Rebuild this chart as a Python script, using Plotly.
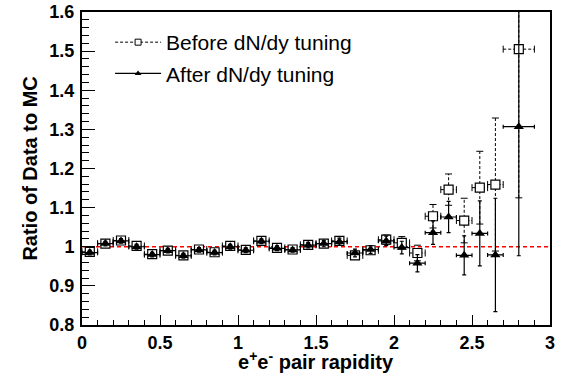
import plotly.graph_objects as go

# ---------------- data ----------------
rapidity = [0.05, 0.15, 0.25, 0.35, 0.45, 0.55, 0.65, 0.75, 0.85, 0.95,
            1.05, 1.15, 1.25, 1.35, 1.45, 1.55, 1.65, 1.75, 1.85, 1.95,
            2.05, 2.15, 2.25, 2.35, 2.45, 2.55, 2.65, 2.80]
bin_halfwidth = [0.05] * 27 + [0.10]

before = [0.987, 1.008, 1.016, 1.002, 0.981, 0.990, 0.978, 0.993, 0.986, 1.002,
          0.992, 1.015, 0.997, 0.993, 1.005, 1.008, 1.015, 0.978, 0.991, 1.018,
          1.010, 0.984, 1.078, 1.146, 1.067, 1.151, 1.159, 1.505]
before_err = [0.006, 0.006, 0.006, 0.006, 0.006, 0.006, 0.006, 0.006, 0.006, 0.006,
              0.006, 0.006, 0.006, 0.006, 0.007, 0.008, 0.009, 0.010, 0.010, 0.012,
              0.016, 0.020, 0.030, 0.040, 0.057, 0.093, 0.170, 0.380]

after = [0.985, 1.008, 1.015, 1.000, 0.980, 0.990, 0.977, 0.992, 0.985, 1.000,
         0.991, 1.014, 0.996, 0.992, 1.004, 1.008, 1.013, 0.984, 0.993, 1.015,
         0.998, 0.958, 1.036, 1.076, 0.978, 1.034, 0.979, 1.307]
after_err = [0.006, 0.006, 0.006, 0.006, 0.006, 0.006, 0.006, 0.006, 0.006, 0.006,
             0.006, 0.006, 0.006, 0.006, 0.007, 0.008, 0.009, 0.010, 0.010, 0.012,
             0.016, 0.022, 0.030, 0.040, 0.050, 0.083, 0.145, 0.330]

series_names = ["Before dN/dy tuning", "After dN/dy tuning"]

reference_ratio = 1.0
x_range = [0, 3]
y_range = [0.8, 1.6]
x_tickvals = [0, 0.5, 1, 1.5, 2, 2.5, 3]

FONT = "Liberation Sans, Arial, Helvetica, sans-serif"

fig = go.Figure()

# ---- "before" dashed error bars, built from the data ----
seg_x, seg_y = [], []
capv_x, capv_y, caph_x, caph_y = [], [], [], []
for x, y, ex, ey in zip(rapidity, before, bin_halfwidth, before_err):
    seg_x += [x, x, None, x - ex, x + ex, None]
    seg_y += [y - ey, y + ey, None, y, y, None]
    capv_x += [x, x]
    capv_y += [y - ey, y + ey]
    caph_x += [x - ex, x + ex]
    caph_y += [y, y]

fig.add_trace(go.Scatter(x=seg_x, y=seg_y, mode="lines",
                         line=dict(color="black", width=1, dash="3px,2px"),
                         showlegend=False, hoverinfo="skip"))
fig.add_trace(go.Scatter(x=capv_x, y=capv_y, mode="markers",
                         marker=dict(symbol="line-ew-open", size=5, color="black",
                                     line=dict(color="black", width=1)),
                         showlegend=False, hoverinfo="skip"))
fig.add_trace(go.Scatter(x=caph_x, y=caph_y, mode="markers",
                         marker=dict(symbol="line-ns-open", size=5, color="black",
                                     line=dict(color="black", width=1)),
                         showlegend=False, hoverinfo="skip"))

fig.add_trace(go.Scatter(x=rapidity, y=before, mode="markers", name=series_names[0],
                         marker=dict(symbol="square", size=9, color="white",
                                     line=dict(color="black", width=1.2)),
                         showlegend=False))

# ---- "after" with solid error bars ----
fig.add_trace(go.Scatter(x=rapidity, y=after, mode="markers", name=series_names[1],
                         marker=dict(symbol="triangle-up", size=9, color="black"),
                         error_x=dict(type="data", array=bin_halfwidth, color="black",
                                      thickness=1.2, width=2),
                         error_y=dict(type="data", array=after_err, color="black",
                                      thickness=1.2, width=2),
                         showlegend=False))

# ---- legend-only entries (small markers, like the reference key) ----
fig.add_trace(go.Scatter(x=[None], y=[None], mode="lines+markers", name=series_names[0],
                         line=dict(color="black", width=1, dash="3px,2px"),
                         marker=dict(symbol="square", size=6, color="white",
                                     line=dict(color="black", width=1)),
                         legendgroup="b"))
fig.add_trace(go.Scatter(x=[None], y=[None], mode="lines+markers", name=series_names[1],
                         line=dict(color="black", width=1.2),
                         marker=dict(symbol="triangle-up", size=6, color="black"),
                         legendgroup="a"))

fig.add_shape(type="line", xref="x", yref="y", x0=x_range[0], x1=x_range[1],
              y0=reference_ratio, y1=reference_ratio,
              line=dict(color="red", width=1.5, dash="4px,3px"), layer="below")

axis_common = dict(showline=True, linecolor="black", linewidth=2, mirror=True,
                   ticks="inside", tickcolor="black", tickwidth=1,
                   showgrid=False, zeroline=False, automargin=False,
                   tickfont=dict(family=FONT, size=18, color="black", weight="bold"))

fig.update_xaxes(range=x_range, tickvals=x_tickvals, ticklen=10,
                 minor=dict(dtick=0.1, ticks="inside", ticklen=5, tickcolor="black", tickwidth=1),
                 **axis_common)
fig.update_yaxes(range=y_range, dtick=0.1, tick0=0.8, ticklen=13,
                 minor=dict(dtick=0.02, ticks="inside", ticklen=7, tickcolor="black", tickwidth=1),
                 ticklabelstandoff=2,
                 **axis_common)

fig.add_annotation(text="e<sup>+</sup>e<sup>-</sup> pair rapidity", xref="paper", yref="paper",
                   x=0.5, y=-0.115, xanchor="center", yanchor="middle", showarrow=False,
                   font=dict(family=FONT, size=20, color="black", weight="bold"))
fig.add_annotation(text="Ratio of Data to MC", xref="paper", yref="paper",
                   x=-0.113, y=0.5, xanchor="center", yanchor="middle", showarrow=False,
                   textangle=-90,
                   font=dict(family=FONT, size=20, color="black", weight="bold"))

fig.update_layout(
    template="none",
    width=563, height=378,
    margin=dict(l=82, r=13, t=12, b=53, autoexpand=False),
    paper_bgcolor="white", plot_bgcolor="white",
    legend=dict(x=0.06, y=0.968, xanchor="left", yanchor="top",
                bgcolor="rgba(0,0,0,0)", tracegroupgap=1, itemwidth=46,
                font=dict(family=FONT, size=21, color="black")),
)

fig.write_html("out.html", config={"displayModeBar": False},
               post_script="document.body.style.margin='0';document.body.style.padding='0';")
